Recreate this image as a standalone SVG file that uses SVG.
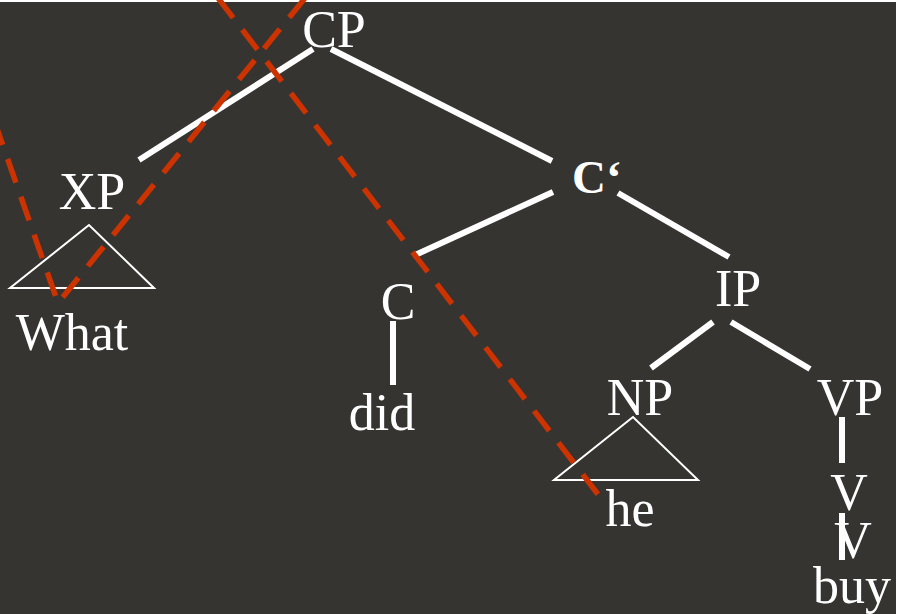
<svg xmlns="http://www.w3.org/2000/svg" width="898" height="614" viewBox="0 0 898 614">
  <defs>
    <style>
      .lbl { font-family: "Liberation Serif", "Times New Roman", serif; font-size: 52px; fill: #ffffff; text-anchor: middle; }
      .bar { stroke: #ffffff; stroke-width: 6; fill: none; }
      .tri { stroke: #ffffff; stroke-width: 2; fill: none; stroke-linejoin: miter; }
      .move { stroke: #cc3300; stroke-width: 5.5; fill: none; stroke-dasharray: 25 15; }
    </style>
  </defs>

  <!-- canvas -->
  <rect x="0" y="0" width="898" height="614" fill="#ffffff"/>
  <rect x="0" y="2" width="896" height="612" fill="#363431"/>

  <!-- tree branches -->
  <g id="connectors">
    <line class="bar" x1="313" y1="49" x2="139" y2="160"/>
    <line class="bar" x1="331" y1="49" x2="552" y2="161"/>
    <line class="bar" x1="553" y1="192" x2="413" y2="256"/>
    <line class="bar" x1="618" y1="193" x2="729" y2="257"/>
    <line class="bar" x1="713" y1="322" x2="651" y2="368"/>
    <line class="bar" x1="731" y1="322" x2="810" y2="369"/>
    <line class="bar" x1="393" y1="321" x2="393" y2="385"/>
    <line class="bar" x1="842" y1="417" x2="842" y2="463"/>
    <line class="bar" x1="842" y1="513" x2="842" y2="560"/>
  </g>

  <!-- nodes -->
  <g id="node-CP"><text class="lbl" x="334" y="47">CP</text></g>
  <g id="node-XP">
    <text class="lbl" x="92" y="209">XP</text>
    <polygon class="tri" points="89,225 10,288 154,288"/>
    <text class="lbl" x="72" y="350">What</text>
  </g>
  <g id="node-Cbar"><text class="lbl" x="572" y="193" style="text-anchor:start;font-weight:bold;font-size:47px">C‘</text></g>
  <g id="node-C">
    <text class="lbl" x="398" y="319">C</text>
    <text class="lbl" x="382" y="430">did</text>
  </g>
  <g id="node-IP"><text class="lbl" x="738" y="306">IP</text></g>
  <g id="node-NP">
    <text class="lbl" x="640" y="415">NP</text>
    <polygon class="tri" points="633,417 554,480 698,480"/>
    <text class="lbl" x="630" y="526">he</text>
  </g>
  <g id="node-VP">
    <text class="lbl" x="850" y="415">VP</text>
    <text class="lbl" x="849" y="510">V</text>
    <text class="lbl" x="853" y="558">V</text>
    <text class="lbl" x="852" y="603">buy</text>
  </g>

  <!-- movement traces -->
  <g id="movement">
    <path class="move" d="M218,-2 L600,497"/>
    <path class="move" d="M305,-2 L58,303 L-6,120"/>
  </g>
</svg>
